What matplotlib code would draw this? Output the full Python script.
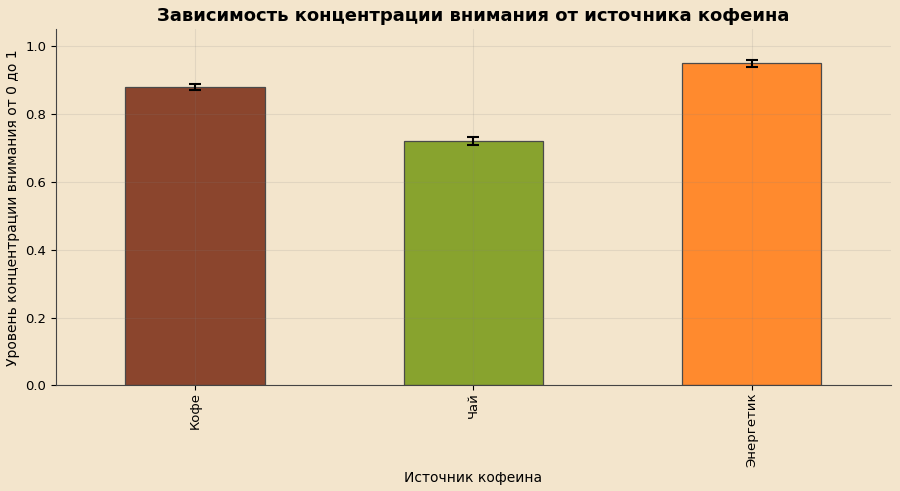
import pandas as pd
import matplotlib.pyplot as plt

# Данные
sources = ['Кофе', 'Чай', 'Энергетик']
focus = [0.88, 0.72, 0.95]
errors = [0.009, 0.012, 0.01]
colors = ['#8B452D', '#88A32E', '#FF8A2E']

bg = '#F3E5CC'

df = pd.DataFrame({'focus': focus, 'err': errors}, index=sources)

fig, ax = plt.subplots(figsize=(9, 4.91), dpi=100)
fig.patch.set_facecolor(bg)
ax.set_facecolor(bg)

df['focus'].plot(kind='bar', ax=ax, yerr=df['err'], color=colors,
                 edgecolor='#4a4a4a', linewidth=0.9, capsize=4,
                 error_kw={'elinewidth': 1.5, 'capthick': 1.5, 'ecolor': 'black'})

ax.set_ylim(0, 1.05)
ax.set_title('Зависимость концентрации внимания от источника кофеина',
             fontsize=13, fontweight='bold')
ax.set_xlabel('Источник кофеина', fontsize=10, labelpad=3)
ax.set_ylabel('Уровень концентрации внимания от 0 до 1', fontsize=10)
ax.tick_params(labelsize=9.5)
ax.tick_params(axis='x', pad=1.5)
ax.grid(True, color='gray', linewidth=0.8, alpha=0.15)
for s in ['top', 'right']:
    ax.spines[s].set_visible(False)
for s in ['left', 'bottom']:
    ax.spines[s].set_color('#444444')

plt.subplots_adjust(left=0.062, right=0.99, top=0.94, bottom=0.215)
plt.savefig('out.png', facecolor=bg)
